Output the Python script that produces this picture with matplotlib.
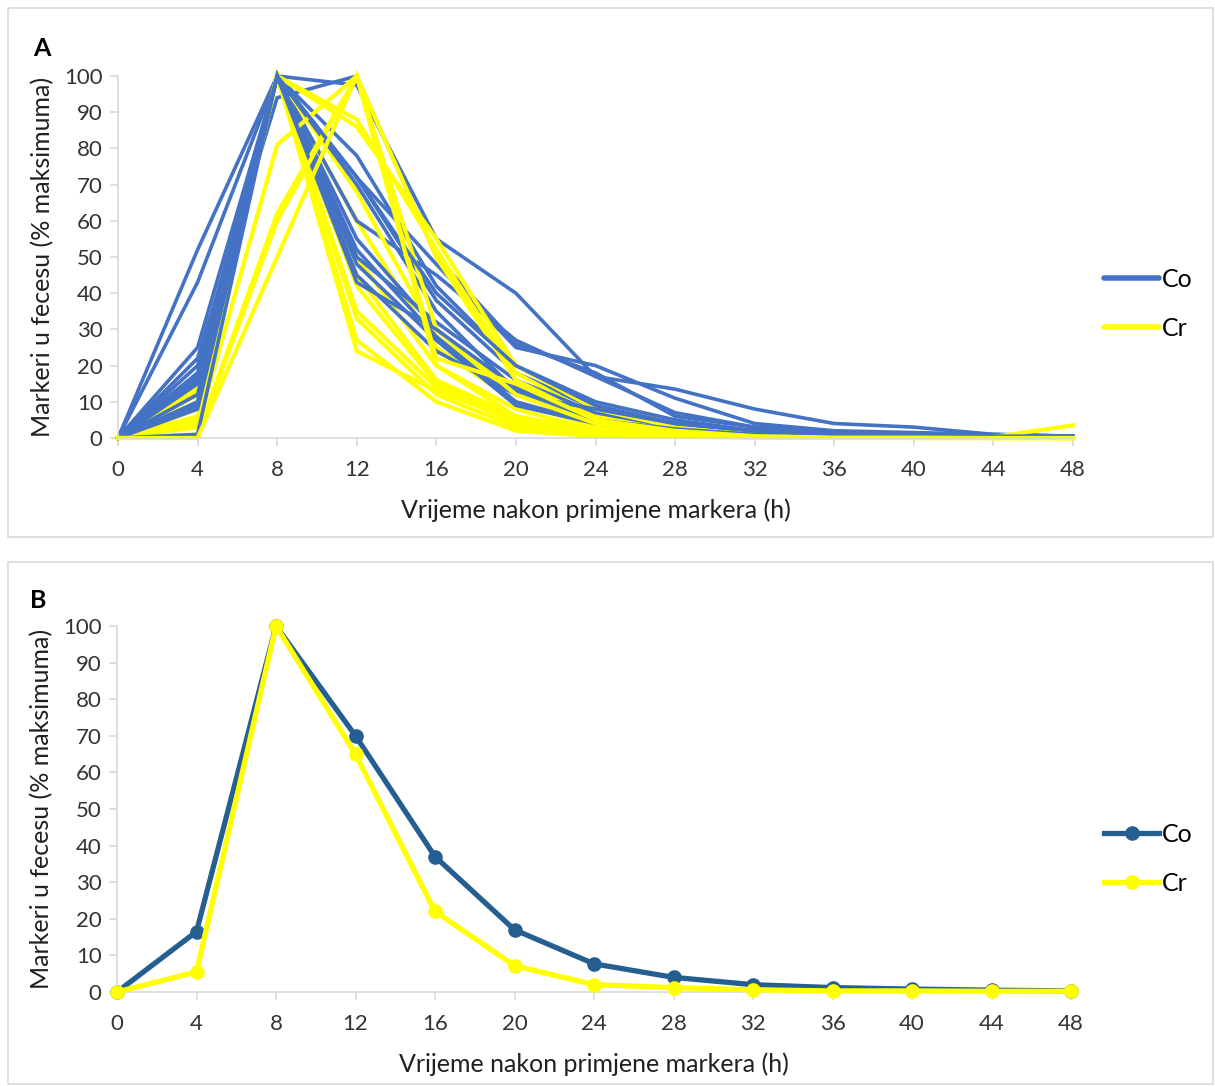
import matplotlib
matplotlib.use("Agg")
import matplotlib.pyplot as plt
from matplotlib.patches import Rectangle

plt.rcParams['font.family'] = ['Lato', 'DejaVu Sans']

hours = [0, 4, 8, 12, 16, 20, 24, 28, 32, 36, 40, 44, 48]
tick_labels = [str(h) for h in hours]

# Panel A: individual animals (% of maximum)
co_lines = [
    [0, 52, 100, 60, 45, 27, 17, 13.5, 8, 4, 3, 1, 0.5],
    [0, 43, 100, 72, 48, 25, 20, 11, 4, 2, 1.5, 1, 0.5],
    [0, 25, 100, 97.5, 55, 40, 17, 7, 3, 1.5, 1, 0.5, 0.3],
    [0, 22, 94, 100, 50, 26, 18, 6, 3, 1.5, 0.8, 0.5, 0.3],
    [0, 20, 100, 78, 42, 20, 10, 5, 2, 1, 0.5, 0.3, 0.2],
    [0, 18, 100, 72, 38, 18, 8, 4, 2, 1, 0.5, 0.3, 0.2],
    [0, 17, 100, 70, 35, 13, 6, 3, 1.5, 0.8, 0.5, 0.3, 0.2],
    [0, 16, 100, 55, 30, 12, 5, 3, 1, 0.5, 0.5, 0.3, 0.2],
    [0, 15, 100, 52, 28, 10, 4, 2, 1, 0.5, 0.3, 0.2, 0.1],
    [0, 12, 100, 50, 32, 16, 7, 3, 1.5, 0.8, 0.5, 0.3, 0.2],
    [0, 10, 100, 48, 27, 9, 4, 2, 1, 0.5, 0.3, 0.2, 0.1],
    [0, 9, 100, 45, 24, 12, 8, 4, 2, 1, 0.5, 0.3, 0.2],
    [0, 8, 100, 43, 30, 14, 5, 2.5, 1, 0.5, 0.3, 0.2, 0.1],
    [0, 1, 100, 72, 40, 20, 9, 4, 2, 1, 0.8, 0.5, 0.5],
]
cr_lines = [
    [0, 15, 100, 60, 25, 10, 3, 1, 0.5, 0.3, 0.2, 0.1, 0],
    [0, 14, 100, 68, 28, 12, 4, 1.5, 0.5, 0.2, 0.1, 0.1, 0],
    [0, 14, 100, 50, 20, 8, 2, 1, 0.5, 0.2, 0.1, 0.1, 0],
    [0, 13, 100, 45, 16, 6, 2, 1, 0.5, 0.2, 0.1, 0, 0],
    [0, 12, 100, 42, 15, 5, 1.5, 0.8, 0.3, 0.2, 0.1, 0, 0],
    [0, 10, 100, 35, 14, 4, 1, 0.5, 0.3, 0.1, 0.1, 0, 0],
    [0, 9, 100, 33, 12, 3, 1, 0.5, 0.2, 0.1, 0, 0, 0],
    [0, 8, 100, 27, 10, 2, 0.5, 0.3, 0.1, 0, 0, 0, 0],
    [0, 6, 100, 24, 13, 5, 1, 0.5, 0.2, 0.1, 0, 0, 0],
    [0, 5, 100, 88, 52, 18, 6, 2, 1, 0.5, 0.2, 0.3, 3.5],
    [0, 4, 100, 86, 55, 20, 8, 3, 1, 0.5, 0.3, 0.2, 0.1],
    [0, 3, 81, 100, 50, 16, 5, 2, 0.8, 0.3, 0.2, 0.1, 0.1],
    [0, 1, 62, 100, 30, 12, 4, 1.5, 0.5, 0.2, 0.1, 0.1, 0],
    [0, 0.5, 60, 100, 22, 15, 5, 2, 0.5, 0.2, 0.1, 0, 0],
    [0, 0, 50, 100, 20, 6, 2, 1, 0.3, 0.1, 0.1, 0, 0],
]

# Panel B: mean curves
co_mean = [0, 16.5, 100, 70, 37, 17, 7.7, 4, 2, 1.2, 0.8, 0.5, 0.3]
cr_mean = [0, 5.5, 100, 65, 22, 7.2, 2, 1.2, 0.6, 0.3, 0.3, 0.2, 0.2]

series_names = ['Co', 'Cr']
ylabel = 'Markeri u fecesu (% maksimuma)'
xlabel = 'Vrijeme nakon primjene markera (h)'

W, H = 1215, 1086
fig = plt.figure(figsize=(W / 100, H / 100), dpi=100)

def fx(px):
    return px / W

def fy(py):
    return 1 - py / H

# panel borders
for (x0, y0, x1, y1) in [(8, 8, 1213, 537), (8, 562, 1213, 1084)]:
    fig.patches.append(Rectangle((fx(x0), fy(y1)), fx(x1) - fx(x0), fy(y0) - fy(y1),
                                 transform=fig.transFigure, fill=False,
                                 edgecolor='#D9D9D9', linewidth=1.2))

grey = '#D9D9D9'
CO_A = '#4472C4'
CO_B = '#255E91'
CR = '#FFFF00'

def style_axes(ax):
    ax.set_xlim(0, 48)
    ax.set_ylim(0, 100)
    ax.set_xticks(hours)
    ax.set_xticklabels(tick_labels)
    ax.set_yticks(range(0, 101, 10))
    for s in ['top', 'right']:
        ax.spines[s].set_visible(False)
    for s in ['left', 'bottom']:
        ax.spines[s].set_color(grey)
        ax.spines[s].set_linewidth(1.2)
    ax.tick_params(axis='both', colors=grey, labelcolor='#333333',
                   labelsize=16, length=6, width=1.2, direction='out')
    ax.tick_params(axis='x', pad=10)
    ax.tick_params(axis='y', pad=5)
    ax.set_ylabel(ylabel, fontsize=18, color='#202020', labelpad=7)
    ax.set_xlabel(xlabel, fontsize=18, color='#202020', labelpad=13)

# Panel A
axA = fig.add_axes([fx(118), fy(438), fx(1073) - fx(118), fy(76) - fy(438)])
n = max(len(co_lines), len(cr_lines))
for i in range(n):
    if i < len(cr_lines):
        axA.plot(hours, cr_lines[i], color=CR, lw=3.0, clip_on=False,
                 solid_joinstyle='miter', label=series_names[1] if i == 0 else None, zorder=2)
    if i < len(co_lines):
        axA.plot(hours, co_lines[i], color=CO_A, lw=2.6, clip_on=False,
                 solid_joinstyle='miter', label=series_names[0] if i == 0 else None, zorder=2)
style_axes(axA)
h, l = axA.get_legend_handles_labels()
order = [l.index('Co'), l.index('Cr')]
legA = axA.legend([h[k] for k in order], [l[k] for k in order], frameon=False,
                  loc='center left', bbox_to_anchor=(fx(1094), fy(304)),
                  bbox_transform=fig.transFigure, fontsize=18, handlelength=2.2,
                  handletextpad=0.12, labelspacing=1.05, borderaxespad=0)
for lh in legA.get_lines():
    lh.set_linewidth(4)
    lh.set_solid_capstyle('round')
fig.text(fx(33), fy(48), 'A', fontsize=18, fontweight='bold', va='center', ha='left')

# Panel B
axB = fig.add_axes([fx(117), fy(992), fx(1071) - fx(117), fy(626) - fy(992)])
axB.plot(hours, co_mean, color=CO_B, lw=3.8, marker='o', markersize=9.5,
         clip_on=False, label=series_names[0], zorder=3)
axB.plot(hours, cr_mean, color=CR, lw=3.8, marker='o', markersize=9.5,
         clip_on=False, label=series_names[1], zorder=4)
style_axes(axB)
legB = axB.legend(frameon=False, loc='center left', bbox_to_anchor=(fx(1094), fy(859)),
                  bbox_transform=fig.transFigure, fontsize=18, handlelength=2.2,
                  handletextpad=0.12, labelspacing=1.05, borderaxespad=0)
fig.text(fx(30), fy(600), 'B', fontsize=18, fontweight='bold', va='center', ha='left')

fig.savefig('out.png', dpi=100, facecolor='white')
